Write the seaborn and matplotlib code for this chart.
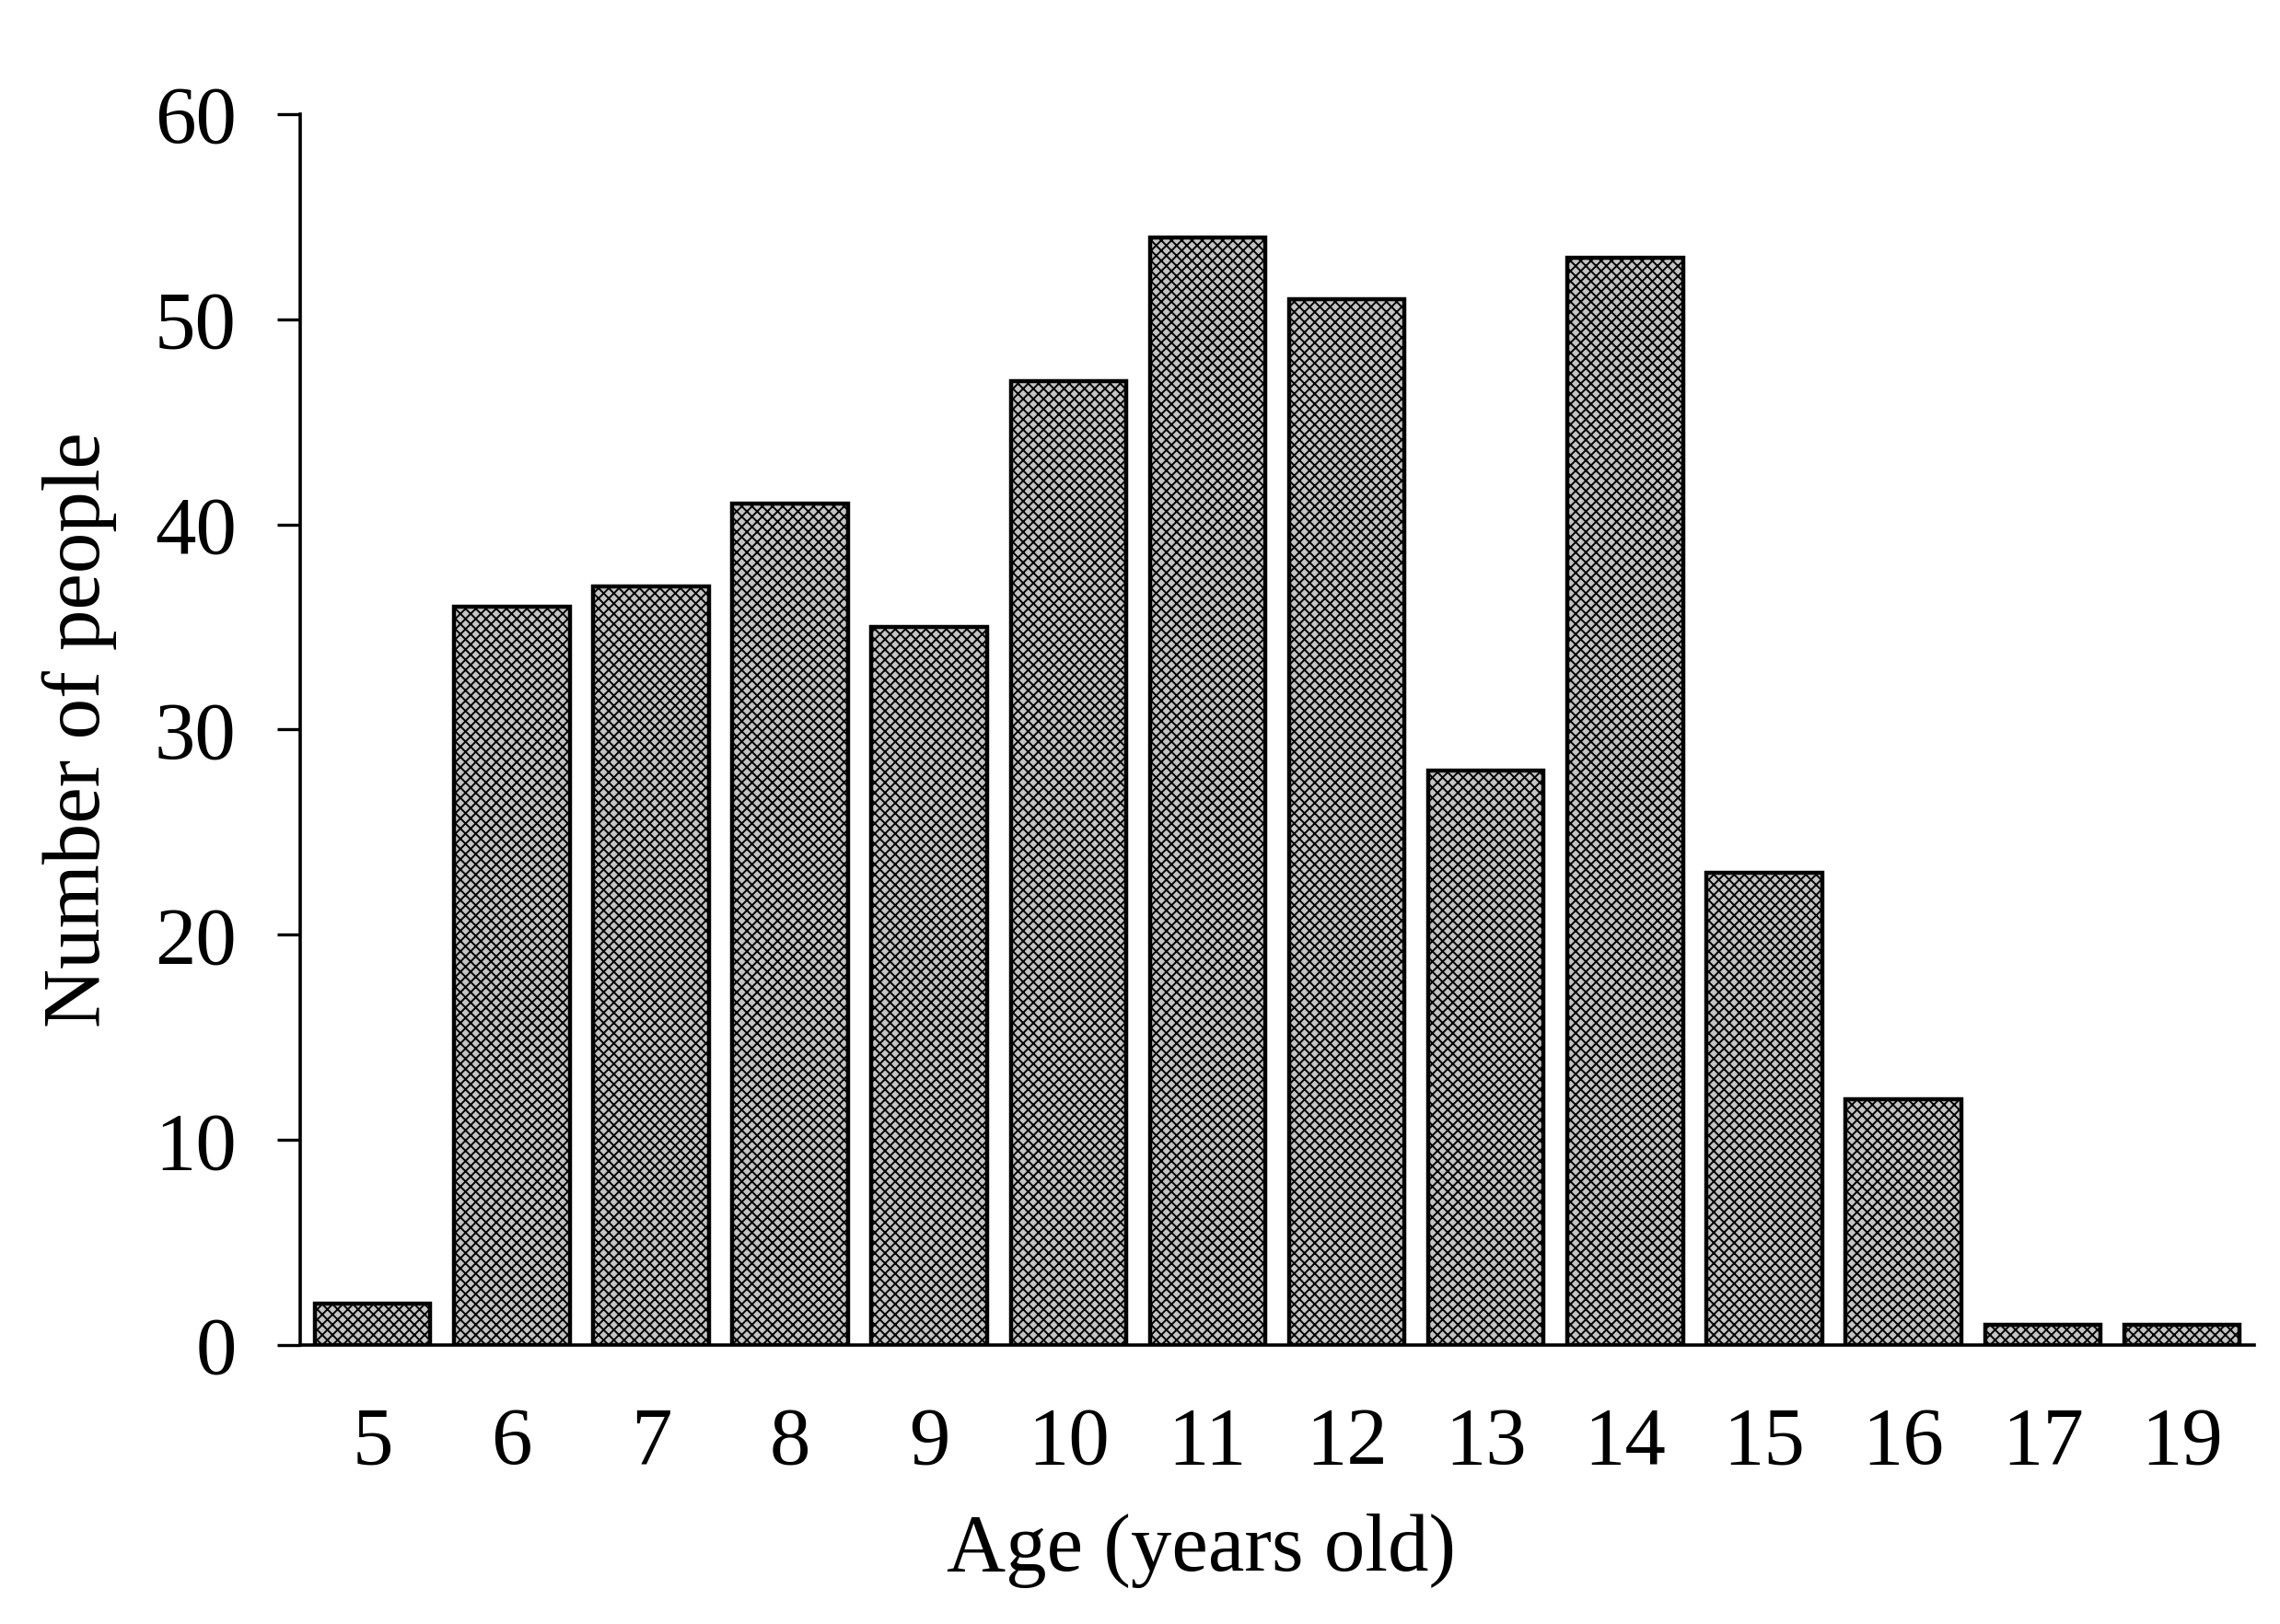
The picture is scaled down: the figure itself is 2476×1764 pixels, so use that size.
import matplotlib
matplotlib.use("Agg")
import matplotlib.pyplot as plt
import seaborn as sns
import pandas as pd

ages = ["5", "6", "7", "8", "9", "10", "11", "12", "13", "14", "15", "16", "17", "19"]
people = [2, 36, 37, 41, 35, 47, 54, 51, 28, 53, 23, 12, 1, 1]

df = pd.DataFrame({"age": ages, "count": people})

sns.set_style("ticks")
plt.rcParams["font.family"] = ["Liberation Serif", "DejaVu Serif"]
plt.rcParams["hatch.linewidth"] = 0.7
plt.rcParams["text.color"] = "black"
plt.rcParams["axes.labelcolor"] = "black"
plt.rcParams["xtick.color"] = "black"
plt.rcParams["ytick.color"] = "black"

fig = plt.figure(figsize=(12.38, 8.82), dpi=200)
ax = fig.add_axes([0.1317, 0.1718, 0.857, 0.7579])

sns.barplot(data=df, x="age", y="count", order=ages, color="#c4c4c4",
            width=0.83, edgecolor="black", linewidth=1.6, saturation=1, ax=ax)
for bar in ax.patches:
    bar.set_hatch("xxxxxx")

ax.set_xlim(-0.52, len(ages) - 0.48)
ax.set_ylim(0, 60)
ax.set_yticks(range(0, 61, 10))
ax.tick_params(axis="y", length=9, width=1.2, labelsize=32, pad=16)
ax.tick_params(axis="x", length=0, labelsize=32, pad=24)
ax.set_xlabel("Age (years old)", fontsize=32)
ax.set_ylabel("Number of people", fontsize=32)
ax.xaxis.set_label_coords(0.461, -0.137)
ax.yaxis.set_label_coords(-0.094, 0.5)
for s in ["top", "right"]:
    ax.spines[s].set_visible(False)
for s in ["left", "bottom"]:
    ax.spines[s].set_linewidth(1.3)
    ax.spines[s].set_color("black")

fig.savefig("out.png", dpi=200, facecolor="white")
